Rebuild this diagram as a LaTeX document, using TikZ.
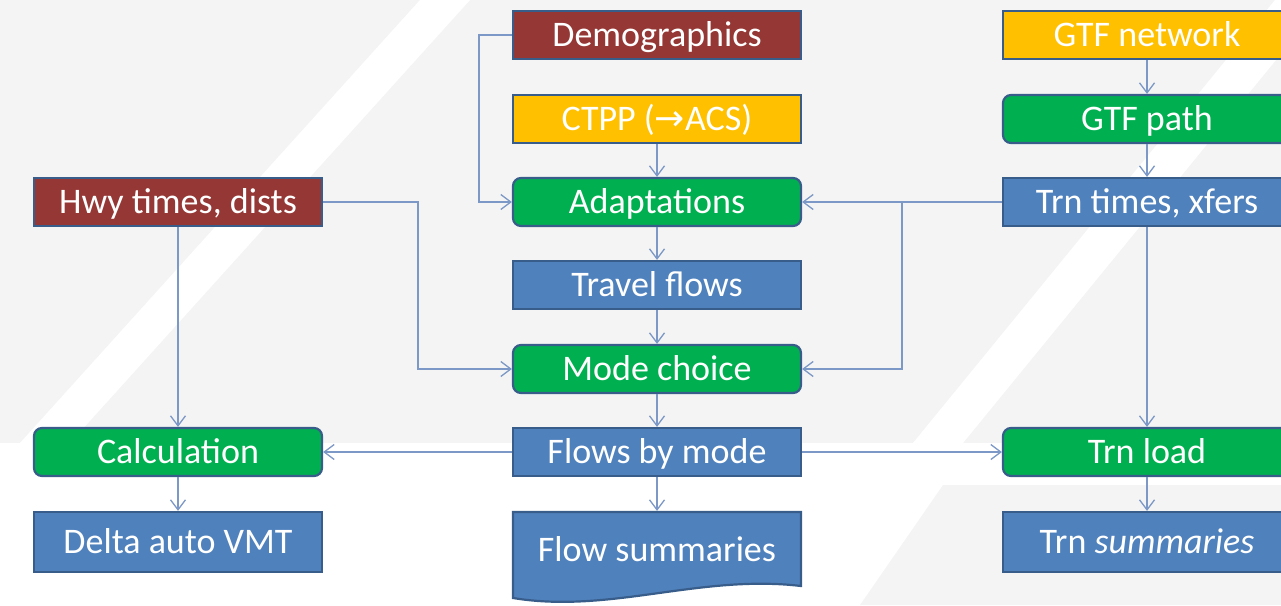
\documentclass[tikz,border=0pt]{standalone}
\usepackage{fontspec}
\setmainfont{Carlito}
\newfontfamily\arrowfont{DejaVu Sans}
\usetikzlibrary{arrows.meta}
\definecolor{fundo}{RGB}{244,244,244}
\definecolor{tijolo}{RGB}{149,55,53}
\definecolor{ouro}{RGB}{255,192,0}
\definecolor{verde}{RGB}{0,176,80}
\definecolor{azul}{RGB}{79,129,189}
\definecolor{borda}{RGB}{56,93,138}
\definecolor{linha}{RGB}{124,152,198}
\begin{document}
\begin{tikzpicture}[x=1pt,y=-1pt,
	box/.style = {draw=borda,line width=2.2pt,text=white,inner sep=0pt,minimum width=288pt,minimum height=48pt,text height=23pt,text depth=0pt,font=\fontsize{36}{36}\selectfont},
	source/.style = {box,fill=tijolo},
	input/.style = {box,fill=ouro},
	process/.style = {box,fill=verde,rounded corners=8pt},
	result/.style = {box,fill=azul},
	link/.style = {draw=linha,line width=1.3pt,-{Straight Barb[length=10pt,width=15pt]}}]
	\useasboundingbox (0,0) rectangle (1281,605);
	\clip (0,0) rectangle (1281,605);
	\fill[fundo] (0,0) rectangle (1281,443);
	\fill[fundo] (943,485) -- (1281,485) -- (1281,605) -- (860,605) -- cycle;
	\fill[white] (420,0) -- (470,0) -- (70,443) -- (20,443) -- cycle;
	\fill[white] (1275,0) -- (1325,0) -- (963,443) -- (913,443) -- cycle;

	\fill[azul,draw=borda,line width=2.2pt] (513,512) -- (801,512) -- (801,586) .. controls (700,574) and (610,614) .. (513,598) -- cycle;

	\node[source] (hwy) at (178,202) {Hwy times, dists};
	\node[process] (calc) at (178,452) {Calculation};
	\node[result,minimum height=60pt] (delta) at (178,542) {Delta auto VMT};

	\node[source] (demo) at (657,35) {Demographics};
	\node[input] (ctpp) at (657,119) {CTPP ({\arrowfont →}ACS)};
	\node[process] (adapt) at (657,202) {Adaptations};
	\node[result] (travel) at (657,285) {Travel flows};
	\node[process] (mode) at (657,369) {Mode choice};
	\node[result] (flows) at (657,452) {Flows by mode};
	\node[box,draw=none,minimum height=76pt] (flowsum) at (657,550) {Flow summaries};

	\node[input] (gtfnet) at (1147,35) {GTF network};
	\node[process] (gtfpath) at (1147,119) {GTF path};
	\node[result] (trntimes) at (1147,202) {Trn times, xfers};
	\node[process] (trnload) at (1147,452) {Trn load};
	\node[result,minimum height=60pt] (trnsum) at (1147,542) {Trn \textit{summaries}};

	\coordinate (split) at (902,202);

	\draw[link] (demo.west) -- ++(-33,0) |- (adapt.west);
	\draw[link] (ctpp) -- (adapt);
	\draw[link] (adapt) -- (travel);
	\draw[link] (travel) -- (mode);
	\draw[link] (mode) -- (flows);
	\draw[link] (flows) -- (flowsum);
	\draw[link] (hwy.east) -- ++(95,0) |- (mode.west);
	\draw[link] (hwy) -- (calc);
	\draw[link] (calc) -- (delta);
	\draw[link] (flows) -- (calc);
	\draw[link] (flows) -- (trnload);
	\draw[link] (trntimes) -- (adapt);
	\draw[link] (split) |- (mode.east);
	\draw[link] (gtfnet) -- (gtfpath);
	\draw[link] (gtfpath) -- (trntimes);
	\draw[link] (trntimes) -- (trnload);
	\draw[link] (trnload) -- (trnsum);
\end{tikzpicture}
\end{document}
